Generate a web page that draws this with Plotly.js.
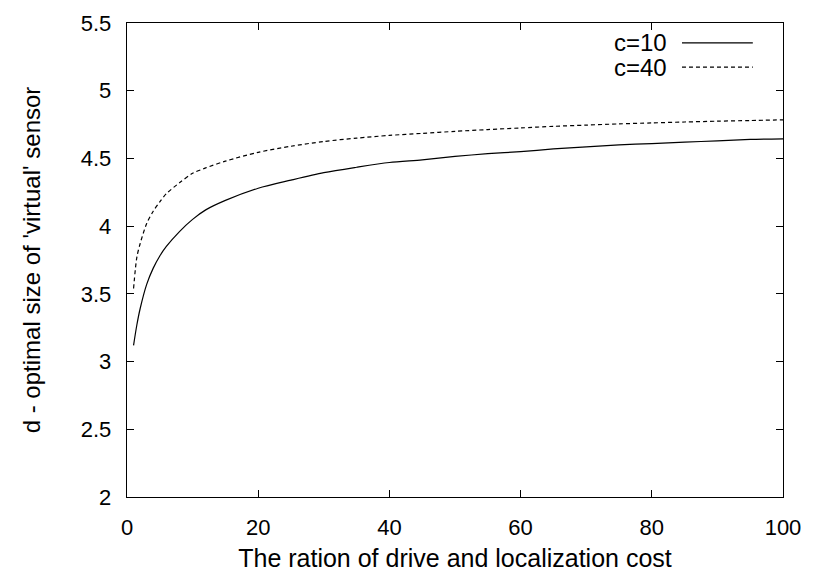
<!DOCTYPE html>
<html>
<head>
<meta charset="utf-8">
<script src="https://cdn.plot.ly/plotly-3.0.1.min.js"></script>
<style>html,body{margin:0;padding:0;background:#fff;}#chart{width:813px;height:575px;}</style>
</head>
<body>
<div id="chart"></div>
<script>
const ratio = [1, 1.5, 2, 3, 4, 5, 6, 8, 10, 12, 15, 20, 25, 30, 35, 40, 45, 50, 55, 60, 65, 70, 75, 80, 85, 90, 95, 100];
const c10 = [3.12, 3.27, 3.39, 3.57, 3.69, 3.78, 3.85, 3.96, 4.05, 4.12, 4.19, 4.28, 4.34, 4.395, 4.435, 4.47, 4.49, 4.515, 4.535, 4.55, 4.57, 4.585, 4.60, 4.61, 4.62, 4.63, 4.64, 4.645];
const c40 = [3.54, 3.77, 3.87, 4.02, 4.11, 4.18, 4.24, 4.32, 4.39, 4.43, 4.48, 4.545, 4.59, 4.625, 4.65, 4.67, 4.685, 4.70, 4.713, 4.725, 4.737, 4.746, 4.755, 4.762, 4.769, 4.775, 4.78, 4.785];
const seriesNames = ['c=10', 'c=40'];
const xTicks = [0, 20, 40, 60, 80, 100];
const yTicks = [2, 2.5, 3, 3.5, 4, 4.5, 5, 5.5];
const yTickText = ['2', '2.5', '3', '3.5', '4', '4.5', '5', '5.5'];

const FONT = 'Liberation Sans, Arial, sans-serif';
const FS = 22;
const FT = 25;
const traces = [
  {x: ratio, y: c10, name: seriesNames[0], mode: 'lines', line: {color: '#000', width: 1.2, shape: 'spline', smoothing: 0.8}},
  {x: ratio, y: c40, name: seriesNames[1], mode: 'lines', line: {color: '#000', width: 1.2, dash: '4px,3px', shape: 'spline', smoothing: 0.8}}
];
const axisCommon = {
  showline: true, mirror: 'ticks', linecolor: '#000', linewidth: 1.3,
  ticks: 'inside', ticklen: 7, tickcolor: '#000', tickwidth: 1,
  showgrid: false, zeroline: false,
  tickfont: {family: FONT, size: FS, color: '#000'}
};
const layout = {
  width: 813, height: 575,
  margin: {l: 127, r: 30, t: 23, b: 78},
  paper_bgcolor: '#fff', plot_bgcolor: '#fff',
  showlegend: false,
  font: {family: FONT, color: '#000'},
  xaxis: Object.assign({}, axisCommon, {
    range: [0, 100], tickvals: xTicks, ticktext: xTicks.map(String), ticklabelstandoff: 10,
    title: {text: 'The ration of drive and localization cost', font: {family: FONT, size: FT, color: '#000'}, standoff: 10}
  }),
  yaxis: Object.assign({}, axisCommon, {
    range: [2, 5.5], tickvals: yTicks, ticktext: yTickText, ticklabelstandoff: 10,
    title: {text: "d - optimal size of 'virtual' sensor", font: {family: FONT, size: 24, color: '#000'}, standoff: 33}
  }),
  annotations: [
    {xref: 'paper', yref: 'paper', x: 0.826, y: 0.958, xanchor: 'right', yanchor: 'middle', text: seriesNames[0], showarrow: false, font: {family: FONT, size: 24, color: '#000'}},
    {xref: 'paper', yref: 'paper', x: 0.826, y: 0.907, xanchor: 'right', yanchor: 'middle', text: seriesNames[1], showarrow: false, font: {family: FONT, size: 24, color: '#000'}}
  ],
  shapes: [
    {type: 'line', xref: 'paper', yref: 'paper', x0: 0.846, x1: 0.954, y0: 0.958, y1: 0.958, line: {color: '#000', width: 1.2}},
    {type: 'line', xref: 'paper', yref: 'paper', x0: 0.846, x1: 0.954, y0: 0.907, y1: 0.907, line: {color: '#000', width: 1.2, dash: '4px,3px'}}
  ]
};
Plotly.newPlot('chart', traces, layout, {displayModeBar: false, staticPlot: true});
</script>
</body>
</html>
